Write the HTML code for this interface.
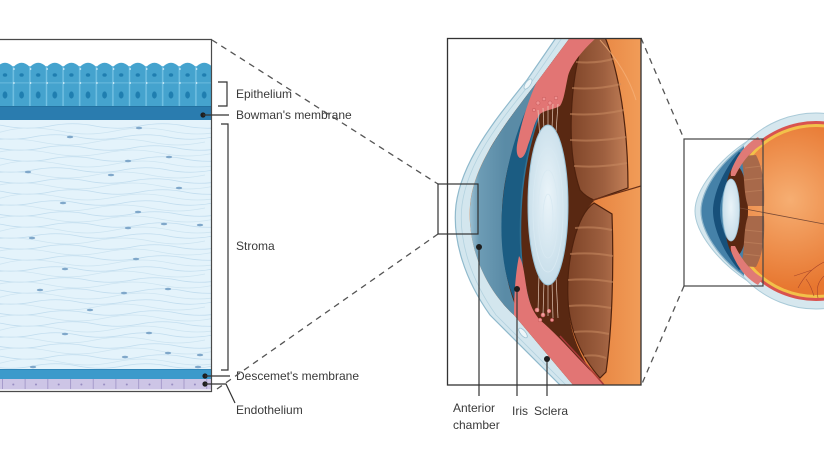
<!DOCTYPE html>
<html><head><meta charset="utf-8">
<style>
html,body{margin:0;padding:0;background:#fff;width:824px;height:463px;overflow:hidden}
svg{display:block}
.t{font-family:"Liberation Sans",Arial,sans-serif;font-size:12px;fill:#3a3a3a}
</style></head><body>
<svg width="824" height="463" viewBox="0 0 824 463" xmlns="http://www.w3.org/2000/svg">
<defs>
<clipPath id="lc"><rect x="0" y="39" width="211" height="352"/></clipPath>
<clipPath id="mc"><rect x="447" y="38" width="194" height="347"/></clipPath>
<clipPath id="ic"><path d="M598,0 L540,78 C510,118 474,160 470,205 C467,245 484,288 514,315 L579,392 L660,400 L660,0 Z"/></clipPath>
<pattern id="ep" x="-3.3" y="62" width="16.6" height="44" patternUnits="userSpaceOnUse">
 <path d="M0,5 Q8.3,-3.5 16.6,5 L16.6,44 L0,44 Z" fill="#45a3ce"/>
 <rect x="0" y="4" width="0.7" height="40" fill="#74c1e3"/>
 <rect x="15.9" y="4" width="0.7" height="40" fill="#74c1e3"/>
 <rect x="0" y="20.5" width="16.6" height="0.8" fill="#74c1e3"/>
 <ellipse cx="8.3" cy="13" rx="2.2" ry="1.8" fill="#1f7eb0"/>
 <ellipse cx="8.3" cy="33" rx="2.4" ry="3.6" fill="#1f7eb0"/>
 <circle cx="0.6" cy="7" r="0.9" fill="#e0f3fb"/>
 <circle cx="0.6" cy="21" r="0.9" fill="#e0f3fb"/>
</pattern>
<pattern id="en" x="2" y="379" width="22.7" height="11" patternUnits="userSpaceOnUse">
 <rect x="0" y="0" width="22.7" height="11" fill="#cdc5e6"/>
 <rect x="0" y="0" width="0.8" height="11" fill="#9d91c5"/>
 <circle cx="11.3" cy="5.5" r="1" fill="#958ac0"/>
 <rect x="0" y="10" width="22.7" height="1" fill="#e8e4f4"/>
</pattern>
<path id="w1" d="M-40,0 c15,-3 30,-3 45,0 s30,3 45,0 s30,-3 45,0 s30,3 45,0 s30,-3 45,0 s30,3 45,0"/>
<path id="w2" d="M-40,0 c20,4 40,4 55,0 s35,-4 55,0 s35,4 55,0 s35,-4 55,0 s35,4 55,0"/>
<linearGradient id="og" gradientUnits="userSpaceOnUse" x1="580" y1="0" x2="641" y2="0">
 <stop offset="0" stop-color="#e47d3a"/><stop offset="1" stop-color="#f19c58"/>
</linearGradient>
<linearGradient id="lb" gradientUnits="userSpaceOnUse" x1="566" y1="0" x2="628" y2="0">
 <stop offset="0" stop-color="#7c4226"/><stop offset="0.6" stop-color="#9d5f3f"/><stop offset="1" stop-color="#c27f57"/>
</linearGradient>
<linearGradient id="ac" gradientUnits="userSpaceOnUse" x1="468" y1="0" x2="505" y2="0">
 <stop offset="0" stop-color="#a6c8d8"/><stop offset="0.3" stop-color="#6d9cb5"/><stop offset="1" stop-color="#5a8ba6"/>
</linearGradient>
<radialGradient id="lg" cx="0.5" cy="0.45" r="0.6">
 <stop offset="0" stop-color="#eaf4f9"/><stop offset="1" stop-color="#c3dbe8"/>
</radialGradient>
<radialGradient id="rg" gradientUnits="userSpaceOnUse" cx="790" cy="200" r="90">
 <stop offset="0" stop-color="#f6ae72"/><stop offset="1" stop-color="#e7762f"/>
</radialGradient>
</defs>

<!-- ============ LEFT PANEL ============ -->
<g clip-path="url(#lc)">
 <rect x="0" y="120" width="211" height="249" fill="#e4f3fb"/>
 <g stroke="#c0dcee" stroke-width="0.8" fill="none">
  <use href="#w1" x="0" y="126"/><use href="#w1" x="-17" y="137"/><use href="#w1" x="-8" y="148"/>
  <use href="#w1" x="0" y="159"/><use href="#w1" x="-17" y="170"/><use href="#w1" x="-8" y="181"/>
  <use href="#w1" x="0" y="192"/><use href="#w1" x="-17" y="203"/><use href="#w1" x="-8" y="214"/>
  <use href="#w1" x="0" y="225"/><use href="#w1" x="-17" y="236"/><use href="#w1" x="-8" y="247"/>
  <use href="#w1" x="0" y="258"/><use href="#w1" x="-17" y="269"/><use href="#w1" x="-8" y="280"/>
  <use href="#w1" x="0" y="291"/><use href="#w1" x="-17" y="302"/><use href="#w1" x="-8" y="313"/>
  <use href="#w1" x="0" y="324"/><use href="#w1" x="-17" y="335"/><use href="#w1" x="-8" y="346"/>
  <use href="#w1" x="0" y="357"/><use href="#w1" x="-17" y="366"/>
 </g>
 <g stroke="#cde4f1" stroke-width="0.8" fill="none">
  <use href="#w2" x="-10" y="131"/><use href="#w2" x="-30" y="142"/><use href="#w2" x="-20" y="153"/>
  <use href="#w2" x="-10" y="164"/><use href="#w2" x="-30" y="175"/><use href="#w2" x="-20" y="186"/>
  <use href="#w2" x="-10" y="197"/><use href="#w2" x="-30" y="208"/><use href="#w2" x="-20" y="219"/>
  <use href="#w2" x="-10" y="230"/><use href="#w2" x="-30" y="241"/><use href="#w2" x="-20" y="252"/>
  <use href="#w2" x="-10" y="263"/><use href="#w2" x="-30" y="274"/><use href="#w2" x="-20" y="285"/>
  <use href="#w2" x="-10" y="296"/><use href="#w2" x="-30" y="307"/><use href="#w2" x="-20" y="318"/>
  <use href="#w2" x="-10" y="329"/><use href="#w2" x="-30" y="340"/><use href="#w2" x="-20" y="351"/>
  <use href="#w2" x="-10" y="362"/>
 </g>
 <g fill="#7fa7ca">
  <ellipse cx="70" cy="137" rx="3.2" ry="1.2"/><ellipse cx="139" cy="128" rx="3.2" ry="1.2"/>
  <ellipse cx="128" cy="161" rx="3.2" ry="1.2"/><ellipse cx="169" cy="157" rx="3.2" ry="1.2"/>
  <ellipse cx="28" cy="172" rx="3.2" ry="1.2"/><ellipse cx="111" cy="175" rx="3.2" ry="1.2"/>
  <ellipse cx="179" cy="188" rx="3.2" ry="1.2"/><ellipse cx="63" cy="203" rx="3.2" ry="1.2"/>
  <ellipse cx="138" cy="212" rx="3.2" ry="1.2"/><ellipse cx="128" cy="228" rx="3.2" ry="1.2"/>
  <ellipse cx="164" cy="224" rx="3.2" ry="1.2"/><ellipse cx="200" cy="225" rx="3.2" ry="1.2"/>
  <ellipse cx="32" cy="238" rx="3.2" ry="1.2"/><ellipse cx="136" cy="259" rx="3.2" ry="1.2"/>
  <ellipse cx="65" cy="269" rx="3.2" ry="1.2"/><ellipse cx="124" cy="293" rx="3.2" ry="1.2"/>
  <ellipse cx="168" cy="289" rx="3.2" ry="1.2"/><ellipse cx="65" cy="334" rx="3.2" ry="1.2"/>
  <ellipse cx="149" cy="333" rx="3.2" ry="1.2"/><ellipse cx="125" cy="357" rx="3.2" ry="1.2"/>
  <ellipse cx="168" cy="353" rx="3.2" ry="1.2"/><ellipse cx="200" cy="355" rx="3.2" ry="1.2"/>
  <ellipse cx="33" cy="367" rx="3.2" ry="1.2"/><ellipse cx="198" cy="367" rx="3.2" ry="1.2"/>
  <ellipse cx="90" cy="310" rx="3.2" ry="1.2"/><ellipse cx="40" cy="290" rx="3.2" ry="1.2"/>
 </g>
 <rect x="0" y="62" width="211" height="44" fill="url(#ep)"/>
 <rect x="0" y="106" width="211" height="14" fill="#2a7caf"/>
 <rect x="0" y="106" width="211" height="1" fill="#22709f"/>
 <rect x="0" y="369" width="211" height="10" fill="#3c9acb"/>
 <rect x="0" y="369" width="211" height="1" fill="#2f86b8"/>
 <rect x="0" y="379" width="211" height="11" fill="url(#en)"/>
</g>
<path d="M0,39.5 H211.5 V391.5 H0" stroke="#4a4a4a" stroke-width="1.2" fill="none"/>

<!-- left labels -->
<path d="M218,82 H227 V106 H218" stroke="#333" stroke-width="1.2" fill="none"/>
<path d="M221,124 H228 V370 H221" stroke="#333" stroke-width="1.2" fill="none"/>
<circle cx="203" cy="115" r="2.6" fill="#1e1e1e"/>
<line x1="203" y1="115" x2="229" y2="115" stroke="#333" stroke-width="1.2"/>
<circle cx="205" cy="376" r="2.6" fill="#1e1e1e"/>
<line x1="205" y1="376" x2="230" y2="376" stroke="#333" stroke-width="1.2"/>
<circle cx="205" cy="384" r="2.6" fill="#1e1e1e"/>
<polyline points="205,384 226,384 235,403" stroke="#333" stroke-width="1.2" fill="none"/>
<text class="t" x="236" y="98">Epithelium</text>
<text class="t" x="236" y="119">Bowman's membrane</text>
<text class="t" x="236" y="250">Stroma</text>
<text class="t" x="236" y="380">Descemet's membrane</text>
<text class="t" x="236" y="414">Endothelium</text>

<!-- dashed connectors -->
<g stroke="#555" stroke-width="1.3" stroke-dasharray="6 5" fill="none">
 <line x1="212" y1="40" x2="438" y2="184"/>
 <line x1="217" y1="389" x2="438" y2="234"/>
 <line x1="641" y1="38" x2="684" y2="139"/>
 <line x1="684" y1="286" x2="641" y2="386"/>
</g>

<!-- ============ MIDDLE PANEL ============ -->
<g clip-path="url(#mc)">
 <path d="M582,0 L527,80 C495,120 462,160 456,205 C452,240 465,280 490,315 L580,405 L660,405 L660,0 Z" fill="#d3e6ee" stroke="#8fb9cc" stroke-width="1.2"/>
 <path d="M588,0 L533,80 C501,120 468,160 462,205 C458,240 471,280 496,315 L586,405" fill="none" stroke="#b3d2df" stroke-width="0.8"/>
 <g clip-path="url(#ic)">
 <rect x="440" y="0" width="220" height="400" fill="url(#og)"/>
 <path d="M540,30 L590,30 C572,80 566,150 580,190 L594,201 C574,220 564,270 570,320 C575,350 590,370 606,395 L570,395 L510,320 L480,250 L485,160 Z" fill="#592812"/>
 <path d="M586,30 C569,80 566,150 580,190 Q586,197 594,200 L628,188 C628,130 620,70 602,30 Z" fill="url(#lb)" stroke="#4f220e" stroke-width="1.2"/>
 <path d="M594,203 C576,215 566,262 568,300 C570,335 584,360 600,378 L606,372 C612,330 614,270 612,214 Z" fill="url(#lb)" stroke="#4f220e" stroke-width="1.2"/>
 <g stroke="#c98b62" stroke-width="2" fill="none" opacity="0.55">
  <path d="M576,62 Q598,64 616,58"/><path d="M572,88 Q598,90 621,84"/><path d="M570,114 Q598,116 624,110"/>
  <path d="M570,140 Q598,142 626,137"/><path d="M574,166 Q600,168 627,163"/>
  <path d="M575,228 Q594,226 612,230"/><path d="M570,254 Q592,252 613,256"/><path d="M568,280 Q590,278 613,282"/>
  <path d="M569,306 Q590,304 611,308"/><path d="M574,332 Q592,330 609,334"/><path d="M584,356 Q596,354 606,358"/>
 </g>
 <line x1="593" y1="200" x2="641" y2="186" stroke="#6a3018" stroke-width="1.2"/>
 <path d="M600,40 C618,60 630,80 636,100" stroke="#f6b27a" stroke-width="1" fill="none" opacity="0.7"/>
 <path d="M552,62 C512,115 473,160 470,207 C468,248 482,284 514,316 L522,320 C506,290 500,250 502,210 C504,165 520,118 552,62 Z" fill="url(#ac)"/>
 <path d="M556,56 C528,95 506,150 502,210 C499,258 508,295 526,322 L534,318 C522,285 519,250 521,210 C523,160 537,110 562,62 Z" fill="#1b5c82"/>
 <path d="M562,62 C537,110 523,160 521,210 C519,250 522,285 534,318" stroke="#2f7193" stroke-width="1.5" fill="none"/>
 <path d="M566,30 L614,30 L597,37 C585,48 572,62 568,76 C565,90 564,100 560,106 C552,110 545,110 540,114 C534,122 532,135 528,145 C526,152 524,158 520,158 C516,156 516,148 518,140 C522,120 530,95 540,75 C548,58 556,45 566,30 Z" fill="#e27574"/>
 <g fill="#ef9191" stroke="#c85a5a" stroke-width="0.6">
  <circle cx="538" cy="103" r="2"/><circle cx="544" cy="99" r="1.8"/><circle cx="550" cy="103" r="2"/><circle cx="556" cy="98" r="1.8"/><circle cx="534" cy="110" r="1.6"/>
 </g>
 <path d="M519,256 C523,262 524,272 526,285 C528,298 531,310 540,320 C552,330 566,345 578,358 C592,372 600,382 612,395 L579,395 L514,318 C514,300 515,275 519,256 Z" fill="#e27574"/>
 <g fill="#ef9191" stroke="#c85a5a" stroke-width="0.6">
  <circle cx="537" cy="310" r="2"/><circle cx="543" cy="315" r="2"/><circle cx="549" cy="311" r="1.8"/><circle cx="540" cy="320" r="1.8"/><circle cx="552" cy="320" r="1.6"/>
 </g>
 <path d="M560,336 C578,356 596,374 612,395" stroke="#a8383a" stroke-width="1.5" fill="none"/>
 <g stroke="#efd6c6" stroke-width="0.7" opacity="0.9">
  <line x1="538" y1="110" x2="540" y2="140"/><line x1="543" y1="108" x2="544" y2="130"/><line x1="548" y1="106" x2="548" y2="128"/>
  <line x1="553" y1="104" x2="552" y2="128"/><line x1="558" y1="104" x2="556" y2="132"/>
  <line x1="538" y1="312" x2="539" y2="274"/><line x1="543" y1="315" x2="544" y2="282"/><line x1="548" y1="316" x2="548" y2="284"/>
  <line x1="553" y1="318" x2="552" y2="282"/><line x1="558" y1="318" x2="556" y2="276"/>
 </g>
 <ellipse cx="548" cy="205" rx="20" ry="80" fill="url(#lg)" stroke="#9cc4d8" stroke-width="1"/>
 <g fill="none" stroke="#d8e9f2" stroke-width="0.8">
  <ellipse cx="548" cy="210" rx="15" ry="62"/><ellipse cx="548" cy="214" rx="10" ry="44"/><ellipse cx="548" cy="218" rx="5" ry="24"/>
 </g>
 </g>
 <ellipse cx="528" cy="84" rx="2.5" ry="6" transform="rotate(35 528 84)" fill="#eef6f9" stroke="#9fc3d3" stroke-width="0.8"/>
 <ellipse cx="523" cy="333" rx="2.5" ry="6" transform="rotate(-40 523 333)" fill="#eef6f9" stroke="#9fc3d3" stroke-width="0.8"/>
</g>
<rect x="447.5" y="38.5" width="193.5" height="346.5" fill="none" stroke="#333" stroke-width="1.3"/>
<rect x="438" y="184" width="40" height="50" fill="none" stroke="#333" stroke-width="1.2"/>

<!-- middle labels -->
<g stroke="#333" stroke-width="1.2">
 <line x1="479" y1="247" x2="479" y2="396"/>
 <line x1="517" y1="289" x2="517" y2="396"/>
 <line x1="547" y1="359" x2="547" y2="396"/>
</g>
<g fill="#1e1e1e">
 <circle cx="479" cy="247" r="3"/><circle cx="517" cy="289" r="3"/><circle cx="547" cy="359" r="3"/>
</g>
<text class="t" x="453" y="412">Anterior</text>
<text class="t" x="453" y="429">chamber</text>
<text class="t" x="512" y="415">Iris</text>
<text class="t" x="534" y="415">Sclera</text>

<!-- ============ RIGHT EYE ============ -->
<path d="M749,140 C718,160 695,190 695,211 C695,232 718,262 749,282 Z" fill="#d6e7ee" stroke="#a9cad8" stroke-width="1"/>
<circle cx="816" cy="211" r="98" fill="#d6e7ee" stroke="#a9cad8" stroke-width="1"/>
<circle cx="816" cy="211" r="90" fill="#d9534f"/>
<circle cx="816" cy="211" r="87" fill="#f2c14a"/>
<circle cx="816" cy="211" r="84" fill="url(#rg)"/>
<path d="M744,146 C718,164 701,192 701,211 C701,230 718,258 744,276 Z" fill="#4581a8"/>
<path d="M744,146 C718,164 701,192 701,211 C701,230 718,258 744,276" fill="none" stroke="#8db5cb" stroke-width="1.2"/>
<path d="M739,152 C723,170 713,195 713,211 C713,227 723,252 739,270 L744,268 C730,250 720,228 720,211 C720,194 730,172 744,154 Z" fill="#17507a"/>
<ellipse cx="736" cy="211" rx="12" ry="45" fill="#5a2812"/>
<path d="M741,156 C745,172 743,192 748,206 L764,206 C765,186 763,168 756,155 Z" fill="#a8694a"/>
<path d="M748,216 C743,230 745,250 741,266 L756,267 C763,254 765,236 764,216 Z" fill="#a8694a"/>
<g stroke="#c48660" stroke-width="1" opacity="0.6">
 <line x1="745" y1="168" x2="762" y2="166"/><line x1="744" y1="180" x2="763" y2="178"/><line x1="745" y1="192" x2="764" y2="190"/>
 <line x1="745" y1="230" x2="764" y2="232"/><line x1="744" y1="242" x2="763" y2="244"/><line x1="744" y1="254" x2="761" y2="256"/>
</g>
<path d="M758,137 C749,142 741,150 735,162 C732,168 730,172 731,176 L735,176 C739,168 744,160 750,154 C755,149 759,146 763,144 Z" fill="#e07a76"/>
<path d="M758,285 C749,280 741,272 735,260 C732,254 730,250 731,246 L735,246 C739,254 744,262 750,268 C755,273 759,276 763,278 Z" fill="#e07a76"/>
<ellipse cx="731" cy="210" rx="8.5" ry="31" fill="url(#lg)" stroke="#9cc3d6" stroke-width="0.8"/>
<line x1="740" y1="208" x2="824" y2="224" stroke="#7a4a35" stroke-width="0.8"/>
<g stroke="#a8452a" stroke-width="0.6" fill="none">
 <path d="M824,262 C812,268 804,276 798,288"/><path d="M812,270 C806,272 800,274 794,276"/>
 <path d="M806,279 C810,284 812,290 814,296"/><path d="M824,276 C818,282 816,288 818,298"/>
</g>
<rect x="684" y="139" width="79" height="147" fill="none" stroke="#444" stroke-width="1.2"/>
</svg>
</body></html>
